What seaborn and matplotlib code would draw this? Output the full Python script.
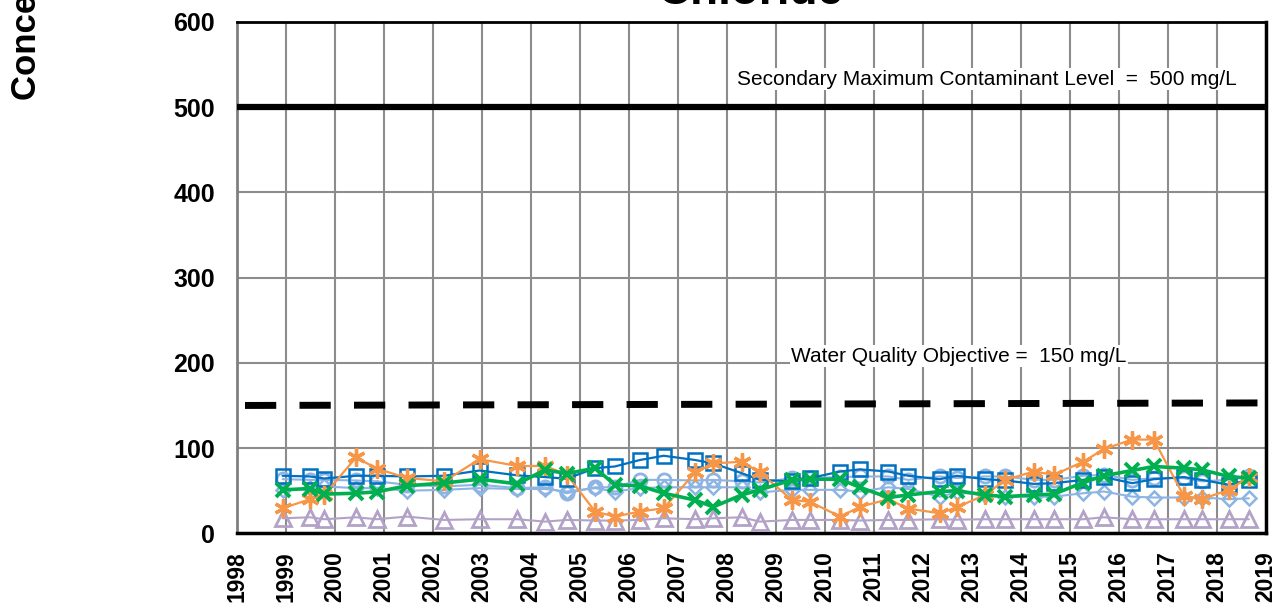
import numpy as np
import pandas as pd
import seaborn as sns
import matplotlib.pyplot as plt

# sample dates (decimal years)
dates = [1998.93, 1999.49, 1999.78, 2000.43, 2000.85, 2001.46, 2002.23, 2002.95, 2003.72, 2004.29, 2004.73,
         2005.31, 2005.71, 2006.22, 2006.71, 2007.35, 2007.72, 2008.30, 2008.67, 2009.33, 2009.69, 2010.31,
         2010.71, 2011.29, 2011.70, 2012.34, 2012.69, 2013.27, 2013.68, 2014.26, 2014.67, 2015.27, 2015.69,
         2016.27, 2016.71, 2017.32, 2017.69, 2018.24, 2018.65]

well_squares = [67.5, 66.7, 64.3, 67.5, 67.5, 66.7, 67.5, 73.7, 68, 66, 64,
                76.5, 78.4, 86, 91, 86, 82, 70.6, 62.7, 61, 64.7, 72.5, 75, 72.5, 67.5,
                63.5, 67.5, 63.5, 62, 58, 58.8, 62.7, 66, 58.8, 63.5, 66, 62.7, 57, 62.7]
well_circles = [63.5, 62.7, 62.7, 62, 61, 57, 55, 57, 53, 54, 47,
                54, 54, 62.7, 62.7, 62, 62.7, 61, 59.6, 64.7, 64.7, 66, 66.7, 66.7, 62.7,
                66.7, 65, 66.7, 66.7, 62.7, 62.7, 67.5, 68.6, 62.7, 64.7, 64.7, 61, 62.7, 66.7]
well_diamonds = [51, 53, 55, 53, 53, 50, 51, 53, 52, 52, 49,
                 53, 49, 53, 54, 54, 54, 54, 48, 51, 51, 51, 49, 54, 52,
                 43, 48, 45, 43, 43, 43, 47, 49, 43, 42, 42, 42, 40, 41]
well_triangles = [17.6, 18.8, 16.5, 18.8, 16.5, 19.6, 15.7, 16.5, 16.5, 13.7, 15.7,
                  15, 15, 15.7, 17.6, 16.5, 17.6, 18.8, 13.7, 15.7, 15.7, 15.7, 15, 15.7, 15.7,
                  16.5, 16, 16.5, 16.5, 16.5, 16.5, 16.5, 18.8, 16.5, 16.5, 16.5, 16.5, 16.5, 16.5]
well_asterisks = [29.4, 40, 45, 89, 76, 65, 61, 87, 79, 79, 69,
                  25.5, 19.6, 25.5, 29.4, 71.4, 82, 84, 71.4, 39, 37, 19.6, 31, 40, 29,
                  23.5, 30.6, 45, 62.7, 72.5, 68.6, 84, 98.8, 110, 110, 44, 40, 51, 66]
well_crosses = [51, 52.5, 46, 47, 48.6, 55.7, 59, 63.5, 58, 74.5, 70,
                76.5, 57, 55.7, 47, 39, 31, 45, 51, 62.7, 63.5, 63.5, 54, 42, 45,
                49, 50, 45, 43, 45, 46, 59.6, 67.5, 73.7, 78.4, 76.5, 74.5, 66.7, 64.7]

smcl_x = [1998, 2019]
smcl_y = [500, 500]
wqo_x = [1998, 2019]
wqo_y = [150, 153]

year_ticks = list(range(1998, 2020))
conc_ticks = list(range(0, 700, 100))

sns.set_style('white')
plt.rcParams['font.family'] = ['Liberation Sans', 'DejaVu Sans']
plt.rcParams['text.color'] = 'black'
plt.rcParams['xtick.labelcolor'] = 'black'
plt.rcParams['ytick.labelcolor'] = 'black'

fig = plt.figure(figsize=(12.73, 6.10), dpi=100)
ax = fig.add_axes([237 / 1273, 76.7 / 610, 1029 / 1273, 511.3 / 610])

series = [
    ('triangles', well_triangles, '#B3A2C7', '^', 11, 1.5, 2.0),
    ('diamonds', well_diamonds, '#8DB4E2', 'D', 7.5, 1.5, 1.8),
    ('circles', well_circles, '#8DB4E2', 'o', 9.5, 1.5, 2.0),
    ('squares', well_squares, '#0070C0', 's', 10.5, 1.6, 1.8),
    ('asterisks', well_asterisks, '#F79646', (6, 2, 0), 13, 1.6, 2.4),
    ('crosses', well_crosses, '#00B050', 'x', 10, 2.6, 2.8),
]
for name, vals, col, mk, ms, lw, mew in series:
    df = pd.DataFrame({'date': dates, 'conc': vals})
    sns.lineplot(data=df, x='date', y='conc', ax=ax, color=col, lw=lw, estimator=None,
                 marker=mk, markersize=ms, mfc='none', mec=col, mew=mew, zorder=4)

# regulatory limits
sns.lineplot(x=smcl_x, y=smcl_y, ax=ax, color='black', lw=4.5, zorder=3)
sns.lineplot(x=wqo_x, y=wqo_y, ax=ax, color='black', lw=5, zorder=3)
ax.lines[-1].set_linestyle((6.7, (4.5, 3.35)))

box = dict(facecolor='white', edgecolor='none', pad=1)
ax.text(2018.41, 533, 'Secondary Maximum Contaminant Level  =  500 mg/L', ha='right', va='center',
        fontsize=15, bbox=box, zorder=2.5)
ax.text(2016.16, 208, 'Water Quality Objective =  150 mg/L', ha='right', va='center',
        fontsize=15, bbox=box, zorder=2.5)

ax.set_xlim(1998, 2019)
ax.set_ylim(0, 600)
ax.set_xticks(year_ticks)
ax.set_xticklabels([str(y) for y in year_ticks], rotation=90, fontsize=16.5, fontweight='bold')
ax.set_yticks(conc_ticks)
ax.set_yticklabels([str(v) for v in conc_ticks], fontsize=18, fontweight='bold')
ax.set_yticks(range(50, 600, 100), minor=True)
ax.tick_params(axis='x', direction='out', length=7, width=1.5, color='#808080', pad=6)
ax.tick_params(axis='y', which='major', length=0, pad=16)
ax.tick_params(axis='y', which='minor', direction='in', length=5, width=1, color='#808080')
ax.grid(True, which='major', color='#8c8c8c', lw=1.5)
ax.set_axisbelow(True)
ax.set_xlabel('')
ax.set_ylabel('')

for side in ['top', 'right', 'bottom']:
    ax.spines[side].set_color('black')
ax.spines['top'].set_linewidth(2)
ax.spines['right'].set_linewidth(2.5)
ax.spines['bottom'].set_linewidth(2.5)
ax.spines['left'].set_color('#808080')
ax.spines['left'].set_linewidth(2)

fig.text(750 / 1273, 1 - 4 / 610, 'Chloride', ha='center', va='baseline', fontsize=33, fontweight='bold')
fig.text(27 / 1273, 1 - 100 / 610, 'Concentration (mg/L)', rotation=90, ha='center', va='bottom',
         fontsize=25, fontweight='bold')

fig.savefig('out.png', dpi=100)
